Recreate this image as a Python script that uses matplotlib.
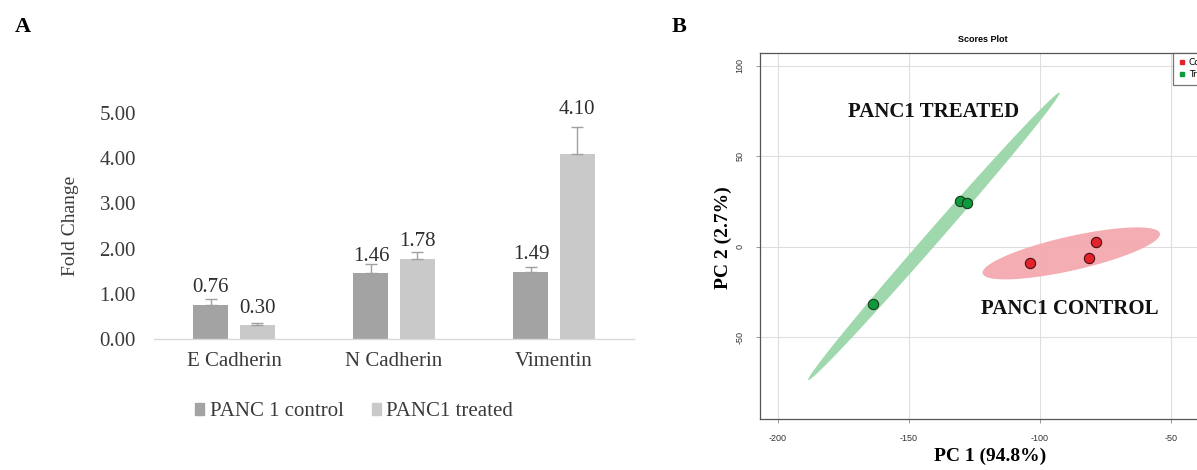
import numpy as np
import matplotlib
matplotlib.use("Agg")
import matplotlib.pyplot as plt
from matplotlib.patches import Polygon, Patch
from matplotlib.lines import Line2D

plt.rcParams["axes.unicode_minus"] = False

# ---------------- data: panel A ----------------
genes = ["E Cadherin", "N Cadherin", "Vimentin"]
series_names = ["PANC 1 control", "PANC1 treated"]
control_vals = [0.76, 1.46, 1.49]
treated_vals = [0.30, 1.78, 4.10]
control_err = [0.12, 0.20, 0.095]
treated_err = [0.05, 0.145, 0.59]
yticks_a = [0, 1, 2, 3, 4, 5]

# ---------------- data: panel B ----------------
treated_pc1 = [-130.5, -128.0, -163.6]
treated_pc2 = [25.4, 24.1, -31.8]
control_pc1 = [-103.8, -78.7, -81.1]
control_pc2 = [-9.2, 2.6, -6.4]
# ellipse: centre, major half-axis vector, minor half-axis vector (data units)
treated_ell = dict(center=(-140.5, 5.75), major=(48.0, 79.35), minor=(-1.95, 2.47))
control_ell = dict(center=(-88.05, -3.65), major=(33.85, 11.05), minor=(-1.43, 9.17))
xticks_b = [-200, -150, -100, -50]
yticks_b = [-50, 0, 50, 100]
legend_b = ["Control", "Treated"]

W, H = 1197, 470
fig = plt.figure(figsize=(W / 100, H / 100), dpi=100)
serif = "Liberation Serif"
sans = "Liberation Sans"
txtc = "#3a3a3a"

# ================= Panel A =================
axA = fig.add_axes([154 / W, 1 - 339 / H, 480 / W, 226 / H])
x = np.arange(len(genes))
bw = 0.219
off = 0.144
c_ctrl = "#a3a3a3"
c_trt = "#c9c9c9"
axA.bar(x - off, control_vals, bw, color=c_ctrl, zorder=2)
axA.bar(x + off, treated_vals, bw, color=c_trt, zorder=2)
ekw = dict(fmt="none", ecolor="#a0a0a0", elinewidth=1.0, capsize=4, capthick=1.0, zorder=3)
axA.errorbar(x - off, control_vals, yerr=[np.zeros(3), control_err], **ekw)
axA.errorbar(x + off, treated_vals, yerr=[np.zeros(3), treated_err], **ekw)

for xs, vals, errs in [(x - off, control_vals, control_err), (x + off, treated_vals, treated_err)]:
    for xi, v, e in zip(xs, vals, errs):
        yy = v + 0.27 if e < 0.3 else v + e + 0.29
        axA.text(xi, yy, f"{v:.2f}", ha="center", va="baseline", fontsize=15,
                 family=serif, color="#2e2e2e")

axA.set_xlim(-0.5, 2.5)
axA.set_ylim(0, 5)
axA.set_yticks(yticks_a)
axA.set_yticklabels([f"{t:.2f}" for t in yticks_a])
axA.set_xticks(x)
axA.set_xticklabels(genes)
for lab in axA.get_xticklabels() + axA.get_yticklabels():
    lab.set_family(serif)
    lab.set_fontsize(15)
    lab.set_color(txtc)
axA.tick_params(axis="y", length=0, pad=13)
axA.tick_params(axis="x", length=0, pad=9)
for s in ["top", "right", "left"]:
    axA.spines[s].set_visible(False)
axA.spines["bottom"].set_color("#d9d9d9")
axA.spines["bottom"].set_linewidth(1.0)
axA.set_ylabel("Fold Change", family=serif, fontsize=14, color=txtc)
axA.yaxis.set_label_coords(-0.157, 0.5)

handles = [Patch(color=c_ctrl), Patch(color=c_trt)]
leg = fig.legend(handles, series_names, loc="center left",
                 bbox_to_anchor=(195 / W, 1 - 412 / H), ncol=2, frameon=False,
                 handlelength=0.45, handleheight=0.45, handletextpad=0.25,
                 columnspacing=1.35, borderpad=0, borderaxespad=0,
                 prop={"family": serif, "size": 15})
for t in leg.get_texts():
    t.set_color(txtc)

fig.text(15 / W, 1 - 27 / H, "A", family=serif, fontweight="bold", fontsize=16,
         va="center", ha="left")

# ================= Panel B =================
left_px, right_px, top_px, bot_px = 760, 1228, 53, 419
axB = fig.add_axes([left_px / W, 1 - bot_px / H, (right_px - left_px) / W, (bot_px - top_px) / H])
axB.set_xlim(-206.9, -28.2)
axB.set_ylim(-95.1, 107.0)
axB.set_xticks(xticks_b)
axB.set_yticks(yticks_b)
axB.grid(True, color="#dedede", linewidth=0.8, zorder=0)
axB.set_axisbelow(True)


def ellipse_poly(p, n=200):
    t = np.linspace(0, 2 * np.pi, n)
    cx, cy = p["center"]
    ax_, ay_ = p["major"]
    bx_, by_ = p["minor"]
    return np.column_stack([cx + np.cos(t) * ax_ + np.sin(t) * bx_,
                            cy + np.cos(t) * ay_ + np.sin(t) * by_])


axB.add_patch(Polygon(ellipse_poly(treated_ell), closed=True, facecolor="#9ad6a8",
                      edgecolor="none", alpha=0.95, zorder=1))
axB.add_patch(Polygon(ellipse_poly(control_ell), closed=True, facecolor="#f4a9af",
                      edgecolor="none", alpha=0.95, zorder=1))
axB.scatter(treated_pc1, treated_pc2, s=55, color="#0c9a3c", edgecolor="#1a3a1a",
            linewidth=0.8, zorder=3)
axB.scatter(control_pc1, control_pc2, s=55, color="#e3222c", edgecolor="#4a1010",
            linewidth=0.8, zorder=3)

axB.text(-140.8, 74.4, "PANC1 TREATED", family=serif, fontweight="bold", fontsize=15,
         ha="center", va="center", color="#111111", zorder=4)
axB.text(-88.5, -34.6, "PANC1 CONTROL", family=serif, fontweight="bold", fontsize=15,
         ha="center", va="center", color="#111111", zorder=4)

for lab in axB.get_xticklabels() + axB.get_yticklabels():
    lab.set_family(sans)
    lab.set_fontsize(6.5)
    lab.set_color("#333333")
for lab in axB.get_yticklabels():
    lab.set_rotation(90)
    lab.set_va("center")
axB.tick_params(axis="both", length=3, width=0.6, color="#888888", pad=8)
for s in axB.spines.values():
    s.set_color("#555555")
    s.set_linewidth(0.9)

axB.set_xlabel("PC 1 (94.8%)", family=serif, fontweight="bold", fontsize=14)
axB.set_ylabel("PC 2 (2.7%)", family=serif, fontweight="bold", fontsize=14)
axB.xaxis.set_label_coords((990 - left_px) / (right_px - left_px), -(448 - bot_px) / (bot_px - top_px))
axB.yaxis.set_label_coords(-(760 - 732) / (right_px - left_px), (bot_px - 238) / (bot_px - top_px))
axB.set_title("Scores Plot", family=sans, fontweight="bold", fontsize=6.5,
              x=(983 - left_px) / (right_px - left_px), pad=8)

lh = [Line2D([], [], marker="s", linestyle="none", color="#e3222c", markersize=3.5),
      Line2D([], [], marker="s", linestyle="none", color="#0c9a3c", markersize=3.5)]
legB = axB.legend(lh, legend_b, loc="upper right", bbox_to_anchor=(1, 1),
                  borderaxespad=0, fontsize=6.5, frameon=True, fancybox=False,
                  edgecolor="#555555", handlelength=0.8, handletextpad=0.4,
                  borderpad=0.6, labelspacing=0.3)
legB.get_frame().set_linewidth(0.9)

fig.text(672 / W, 1 - 27 / H, "B", family=serif, fontweight="bold", fontsize=16,
         va="center", ha="left")

fig.savefig("out.png", dpi=100)
